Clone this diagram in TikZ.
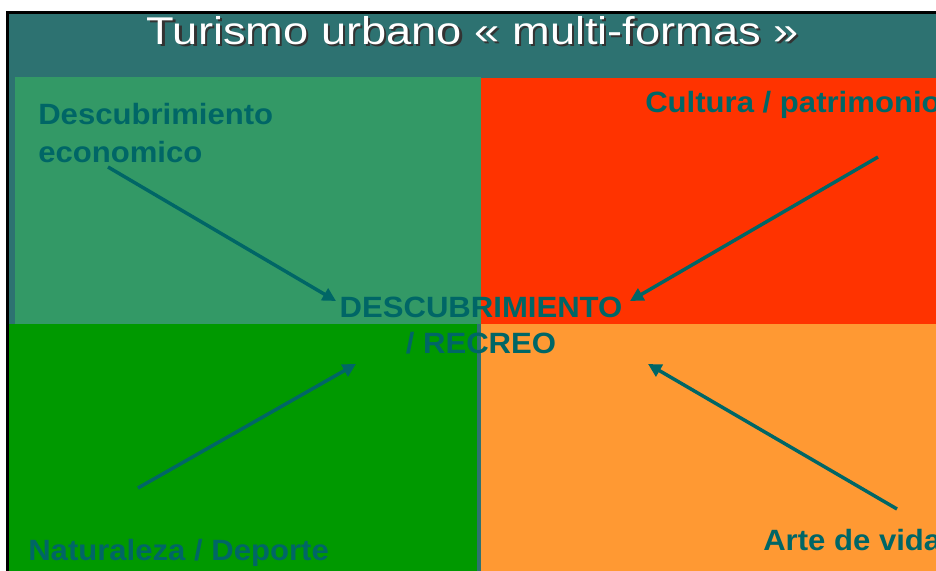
\documentclass[tikz,border=0pt]{standalone}
\usepackage{fontspec}
\usepackage{tikz}
\usetikzlibrary{arrows.meta}
\setmainfont{Liberation Sans}
\newfontfamily\titlefont[FakeStretch=1.17]{Liberation Sans}
\newfontfamily\labelfont[FakeStretch=1.06]{Liberation Sans Bold}
\definecolor{fondo}{HTML}{2D7271}
\definecolor{verdeclaro}{HTML}{339966}
\definecolor{rojo}{HTML}{FF3300}
\definecolor{verde}{HTML}{009900}
\definecolor{naranja}{HTML}{FF9933}
\definecolor{texto}{HTML}{006666}
\definecolor{sombra}{HTML}{333333}
\newcommand{\sombratexto}[1]{{\color{sombra}\rlap{\kern1.6pt\raise-1.6pt\hbox{#1}}}#1}

\begin{document}
\begin{tikzpicture}[x=0.75pt,y=-0.75pt,
	etiqueta/.style={inner sep=0pt,text=texto,font=\labelfont\fontsize{22}{28.5}\selectfont},
	flecha/.style={-{Triangle[length=10pt,width=10pt]},line width=2.6pt,draw=texto}]
	\useasboundingbox (0,0) rectangle (936,571);
	\begin{scope}
	\clip (0,0) rectangle (936,571);
	% fondo y cuadrantes
	\fill[fondo] (8,13) rectangle (936,571);
	\fill[verdeclaro] (15,77) rectangle (481,324);
	\fill[rojo] (481,78) rectangle (936,324);
	\fill[verde] (9,324) rectangle (477,571);
	\fill[naranja] (481,324) rectangle (936,571);
	\draw[line width=2.2pt,black] (7.5,571) -- (7.5,12.5) -- (936,12.5);
	% textos
	\node[anchor=base,inner sep=0pt,text=white,font=\titlefont\fontsize{29}{32}\selectfont] at (473,44) (titulo) {\sombratexto{Turismo urbano « multi-formas »}};
	\node[etiqueta,anchor=base west,align=left] at (38,162) (eco) {Descubrimiento\\economico};
	\node[etiqueta,anchor=base west] at (645,112) (cult) {Cultura / patrimonio};
	\node[etiqueta,anchor=base,align=center,font=\labelfont\fontsize{22}{27}\selectfont] at (481,353) (centro) {DESCUBRIMIENTO\\/ RECREO};
	\node[etiqueta,anchor=base west] at (28,560) (nat) {Naturaleza / Deporte};
	\node[etiqueta,anchor=base west] at (763,550) (arte) {Arte de vida};
	% flechas
	\coordinate (e1) at (108,167); \coordinate (e2) at (336,301);
	\coordinate (c1) at (878,157); \coordinate (c2) at (630,301);
	\coordinate (n1) at (138,488); \coordinate (n2) at (356,364);
	\coordinate (a1) at (897,509); \coordinate (a2) at (648,364);
	\draw[flecha] (e1) -- (e2);
	\draw[flecha] (c1) -- (c2);
	\draw[flecha] (n1) -- (n2);
	\draw[flecha] (a1) -- (a2);
	\end{scope}
\end{tikzpicture}
\end{document}
